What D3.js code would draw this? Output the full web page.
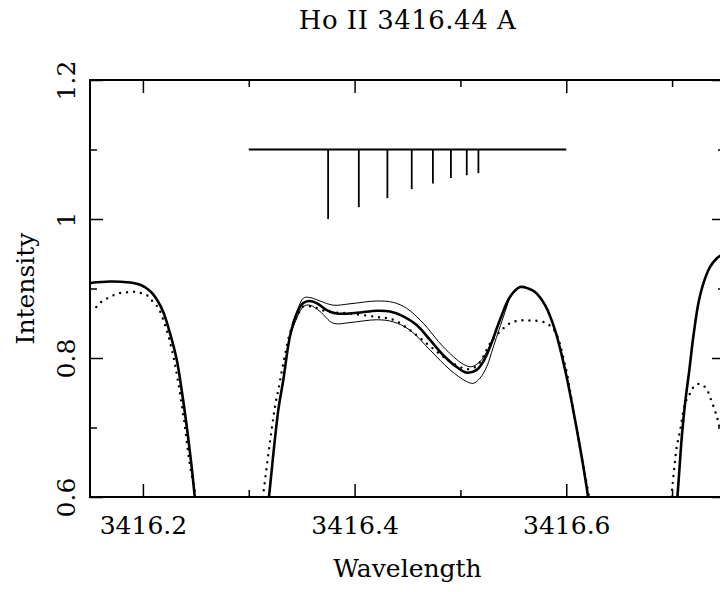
<!DOCTYPE html>
<html>
<head>
<meta charset="utf-8">
<script src="https://cdn.jsdelivr.net/npm/d3@7"></script>
<style>
  body { margin: 0; background: #fff; }
  svg { display: block; font-family: 'DejaVu Serif', serif; }
</style>
</head>
<body>
<svg width="720" height="592"></svg>
<script>
const title = 'Ho II 3416.44 A';
const xLabel = 'Wavelength';
const yLabel = 'Intensity';
const xMajor = [3416.2, 3416.4, 3416.6];
const xMinor = [3416.3, 3416.5, 3416.7];
const yMajor = [0.6, 0.8, 1, 1.2];
const yMinor = [0.7, 0.9, 1.1];

// hyperfine pattern, sticks hang down from 1.1
const hfsSpan = [3416.30, 3416.60];
const hfsBase = 1.1;
const hfsWave = [3416.375, 3416.404, 3416.431, 3416.454, 3416.474, 3416.491, 3416.506, 3416.517];
const hfsBottom = [1.000, 1.017, 1.030, 1.043, 1.051, 1.059, 1.063, 1.066];

// synthetic spectrum, best fit (thick)
const fitLeft = [
  [3416.150, 0.908], [3416.169, 0.910], [3416.185, 0.909], [3416.198, 0.905],
  [3416.207, 0.896], [3416.214, 0.882], [3416.2195, 0.865], [3416.2255, 0.836],
  [3416.232, 0.797], [3416.2366, 0.754], [3416.241, 0.7065], [3416.246, 0.644],
  [3416.249, 0.600], [3416.2525, 0.550],
];
const fitMid = [
  [3416.3163, 0.560], [3416.3191, 0.600], [3416.3279, 0.725], [3416.3326, 0.768],
  [3416.3389, 0.831], [3416.3453, 0.864], [3416.3515, 0.879], [3416.3572, 0.882],
  [3416.3642, 0.879], [3416.3736, 0.869], [3416.3831, 0.864], [3416.402, 0.865],
  [3416.4209, 0.868], [3416.4335, 0.867], [3416.446, 0.860], [3416.4587, 0.8475],
  [3416.4713, 0.826], [3416.4838, 0.804], [3416.4965, 0.787], [3416.506, 0.779],
  [3416.5154, 0.783], [3416.5217, 0.795], [3416.528, 0.816], [3416.5374, 0.855],
  [3416.5469, 0.888], [3416.5563, 0.902], [3416.5642, 0.900], [3416.5705, 0.895],
  [3416.580, 0.876], [3416.5894, 0.840], [3416.5989, 0.783], [3416.6083, 0.711],
  [3416.6159, 0.646], [3416.6206, 0.600], [3416.6234, 0.560],
];
const fitRight = [
  [3416.7025, 0.560], [3416.705, 0.600], [3416.7092, 0.687], [3416.7123, 0.735],
  [3416.7163, 0.783], [3416.7201, 0.831], [3416.7249, 0.879], [3416.7296, 0.9075],
  [3416.7359, 0.931], [3416.7423, 0.9435], [3416.7454, 0.947], [3416.750, 0.950],
];

// abundance +/- (thin), only where they split from the fit
const fitHigh = [
  [3416.3389, 0.831], [3416.3515, 0.886], [3416.3578, 0.887], [3416.3673, 0.882],
  [3416.3799, 0.876], [3416.3957, 0.878], [3416.4209, 0.882], [3416.4366, 0.880],
  [3416.4492, 0.8715], [3416.4649, 0.850], [3416.4838, 0.816], [3416.5027, 0.791],
  [3416.5107, 0.7875], [3416.5185, 0.795], [3416.5249, 0.809], [3416.5374, 0.855],
  [3416.5469, 0.888],
];
const fitLow = [
  [3416.3389, 0.831], [3416.3515, 0.874], [3416.3578, 0.876], [3416.3673, 0.867],
  [3416.3799, 0.850], [3416.3957, 0.851], [3416.4209, 0.855], [3416.4366, 0.852],
  [3416.4524, 0.840], [3416.4713, 0.8115], [3416.4902, 0.783], [3416.506, 0.766],
  [3416.5122, 0.7636], [3416.5185, 0.771], [3416.5249, 0.7875], [3416.5311, 0.816],
  [3416.5469, 0.888],
];

// observed spectrum (dotted)
const obsLeft = [
  [3416.150, 0.869], [3416.1556, 0.873], [3416.161, 0.881], [3416.169, 0.888],
  [3416.1767, 0.893], [3416.1846, 0.8945], [3416.192, 0.8954], [3416.197, 0.894],
  [3416.2035, 0.8906], [3416.208, 0.8835], [3416.2145, 0.872], [3416.221, 0.847],
  [3416.2274, 0.8115], [3416.233, 0.768], [3416.2388, 0.711], [3416.2444, 0.646],
  [3416.250, 0.600], [3416.253, 0.560],
];
const obsMid = [
  [3416.3106, 0.560], [3416.3134, 0.600], [3416.3248, 0.730], [3416.3279, 0.754],
  [3416.3326, 0.792], [3416.3389, 0.8355], [3416.3453, 0.859], [3416.3515, 0.874],
  [3416.3595, 0.874], [3416.3736, 0.867], [3416.3957, 0.864], [3416.4209, 0.859],
  [3416.4366, 0.855], [3416.4524, 0.840], [3416.4681, 0.821], [3416.4838, 0.802],
  [3416.4996, 0.787], [3416.5075, 0.784], [3416.5154, 0.7885], [3416.5216, 0.802],
  [3416.528, 0.821], [3416.5374, 0.838], [3416.5469, 0.850], [3416.5563, 0.854],
  [3416.5658, 0.854], [3416.580, 0.851], [3416.5894, 0.838], [3416.5989, 0.790],
  [3416.6083, 0.711], [3416.6159, 0.646], [3416.6215, 0.600], [3416.6243, 0.560],
];
const obsRight = [
  [3416.698, 0.560], [3416.6997, 0.605], [3416.7019, 0.639], [3416.7044, 0.672],
  [3416.7076, 0.696], [3416.7123, 0.735], [3416.717, 0.749], [3416.7217, 0.761],
  [3416.7265, 0.7626], [3416.7321, 0.7564], [3416.7375, 0.737], [3416.7423, 0.7155],
  [3416.7447, 0.701], [3416.750, 0.675],
];

const svg = d3.select('svg');
const frame = { left: 90, right: 725, top: 80, bottom: 497 };

const x = d3.scaleLinear().domain([3416.15, 3416.75]).range([frame.left, frame.right]);
const y = d3.scaleLinear().domain([0.6, 1.2]).range([frame.bottom, frame.top]);

svg.append('rect').attr('width', 720).attr('height', 592).attr('fill', '#fff');

svg.append('clipPath').attr('id', 'plot')
  .append('rect')
  .attr('x', frame.left).attr('y', frame.top)
  .attr('width', frame.right - frame.left).attr('height', frame.bottom - frame.top);

const line = d3.line()
  .x(d => x(d[0]))
  .y(d => y(d[1]))
  .curve(d3.curveCatmullRom.alpha(0.5));

const curves = svg.append('g').attr('clip-path', 'url(#plot)').attr('fill', 'none');

function drawObs(data) {
  curves.append('path')
    .attr('d', line(data))
    .attr('stroke', '#000')
    .attr('stroke-width', 2.4)
    .attr('stroke-linecap', 'round')
    .attr('stroke-dasharray', '0 7');
}

function drawFit(data, w) {
  curves.append('path')
    .attr('d', line(data))
    .attr('stroke', '#000')
    .attr('stroke-width', w)
    .attr('stroke-linejoin', 'round');
}

[obsLeft, obsMid, obsRight].forEach(drawObs);
drawFit(fitHigh, 1);
drawFit(fitLow, 1);
[fitLeft, fitMid, fitRight].forEach(d => drawFit(d, 2.6));

// stick diagram
const hfs = svg.append('g').attr('stroke', '#000');
hfs.append('line')
  .attr('x1', x(hfsSpan[0])).attr('x2', x(hfsSpan[1]))
  .attr('y1', y(hfsBase)).attr('y2', y(hfsBase))
  .attr('stroke-width', 2);
hfs.selectAll('line.stick')
  .data(hfsWave)
  .join('line')
  .attr('class', 'stick')
  .attr('x1', d => x(d)).attr('x2', d => x(d))
  .attr('y1', y(hfsBase))
  .attr('y2', (d, i) => y(hfsBottom[i]))
  .attr('stroke-width', 1.8);

// axes, ticks pointing inward
function tidy(g) {
  g.select('.domain').remove();
  g.selectAll('line').attr('stroke-width', 1.5);
}

svg.append('g')
  .attr('transform', `translate(0,${frame.bottom})`)
  .call(d3.axisBottom(x).tickValues(xMajor).tickSizeInner(-13).tickSizeOuter(0).tickPadding(37).tickFormat(d3.format('.1f')))
  .call(tidy)
  .call(g => g.selectAll('text').attr('font-size', 25).attr('font-family', 'DejaVu Serif').attr('dy', 0));
svg.append('g')
  .attr('transform', `translate(0,${frame.bottom})`)
  .call(d3.axisBottom(x).tickValues(xMinor).tickSizeInner(-7).tickSizeOuter(0).tickFormat(''))
  .call(tidy);
svg.append('g')
  .attr('transform', `translate(0,${frame.top})`)
  .call(d3.axisTop(x).tickValues(xMajor).tickSizeInner(-13).tickSizeOuter(0).tickFormat(''))
  .call(tidy);
svg.append('g')
  .attr('transform', `translate(0,${frame.top})`)
  .call(d3.axisTop(x).tickValues(xMinor).tickSizeInner(-7).tickSizeOuter(0).tickFormat(''))
  .call(tidy);

svg.append('g')
  .attr('transform', `translate(${frame.left},0)`)
  .call(d3.axisLeft(y).tickValues(yMajor).tickSizeInner(-13).tickSizeOuter(0).tickFormat(d3.format('')))
  .call(tidy)
  .call(g => g.selectAll('text')
    .attr('font-size', 25).attr('font-family', 'DejaVu Serif')
    .attr('x', null).attr('dy', null)
    .attr('text-anchor', 'middle')
    .attr('transform', 'translate(-15,0) rotate(-90)'));
svg.append('g')
  .attr('transform', `translate(${frame.left},0)`)
  .call(d3.axisLeft(y).tickValues(yMinor).tickSizeInner(-7).tickSizeOuter(0).tickFormat(''))
  .call(tidy);
svg.append('g')
  .attr('transform', `translate(${frame.right},0)`)
  .call(d3.axisRight(y).tickValues(yMajor).tickSizeInner(-13).tickSizeOuter(0).tickFormat(''))
  .call(tidy);
svg.append('g')
  .attr('transform', `translate(${frame.right},0)`)
  .call(d3.axisRight(y).tickValues(yMinor).tickSizeInner(-7).tickSizeOuter(0).tickFormat(''))
  .call(tidy);

// frame
svg.append('rect')
  .attr('x', frame.left).attr('y', frame.top)
  .attr('width', frame.right - frame.left).attr('height', frame.bottom - frame.top)
  .attr('fill', 'none')
  .attr('stroke', '#000')
  .attr('stroke-width', 2);

svg.append('text')
  .attr('x', (frame.left + frame.right) / 2).attr('y', 29)
  .attr('text-anchor', 'middle')
  .attr('font-size', 26)
  .attr('letter-spacing', 0.5)
  .text(title);

svg.append('text')
  .attr('x', (frame.left + frame.right) / 2).attr('y', 577)
  .attr('text-anchor', 'middle')
  .attr('font-size', 25)
  .text(xLabel);

svg.append('text')
  .attr('transform', `translate(34,${(frame.top + frame.bottom) / 2}) rotate(-90)`)
  .attr('text-anchor', 'middle')
  .attr('font-size', 25)
  .text(yLabel);
</script>
</body>
</html>
